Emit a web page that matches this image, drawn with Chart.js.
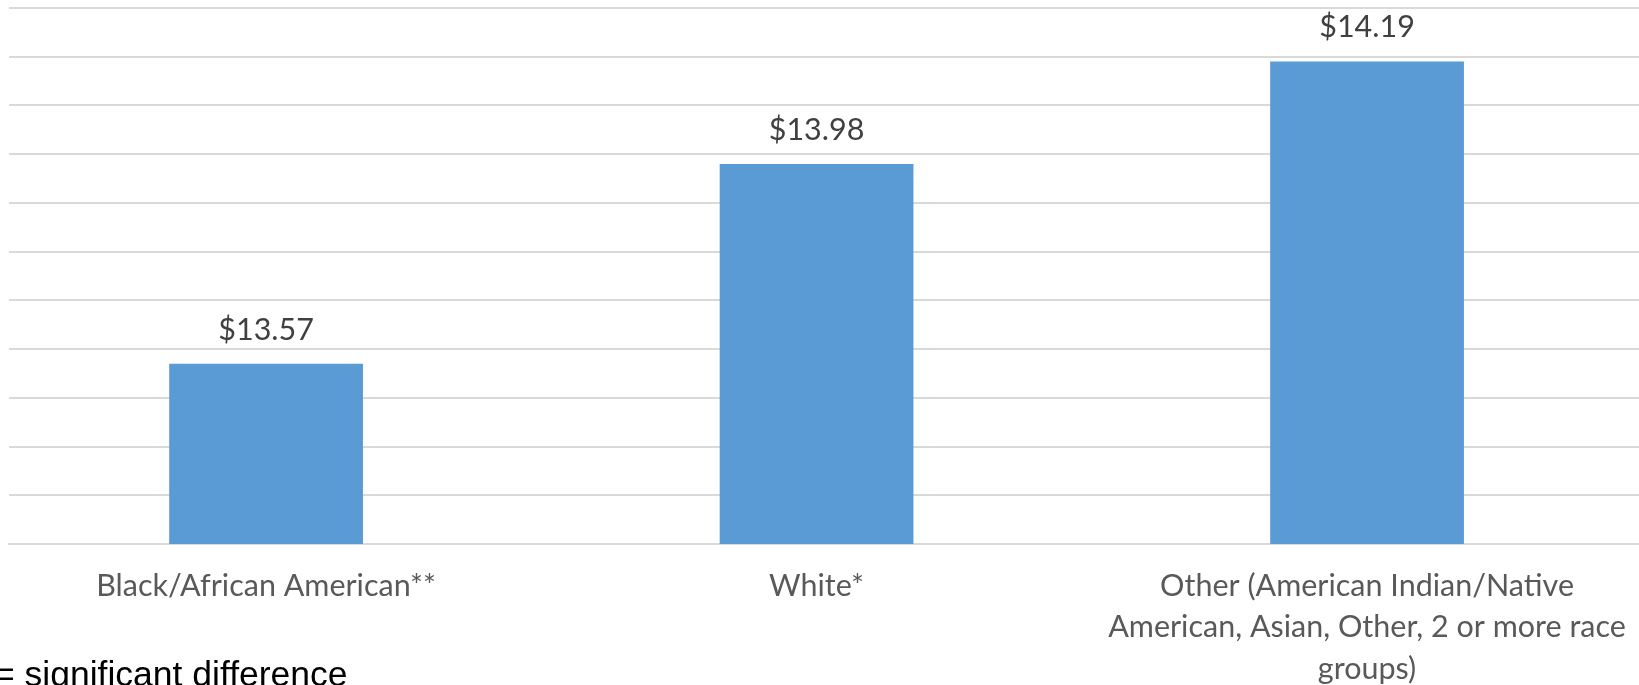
<!DOCTYPE html>
<html>
<head>
<meta charset="utf-8">
<title>Average hourly wage by race</title>
<script src="https://cdn.jsdelivr.net/npm/chart.js@4/dist/chart.umd.min.js"></script>
<style>
    html, body { margin: 0; padding: 0; background: #ffffff; overflow: hidden; }
    #wrap { position: relative; width: 1639px; height: 685px; }
    #note {
        position: absolute;
        left: -6px;
        top: 657px;
        font-family: "Liberation Sans", Arial, sans-serif;
        font-size: 35.5px;
        line-height: 35px;
        color: #000000;
        white-space: nowrap;
    }
</style>
</head>
<body>
<div id="wrap">
    <canvas id="wageChart" width="1639" height="685"></canvas>
    <div id="note">= significant difference</div>
</div>
<script>
// Race groups and their average hourly wage
const groups = [
    'Black/African American**',
    'White*',
    ['Other (American Indian/Native', 'American, Asian, Other, 2 or more race', 'groups)']
];
const wages = [13.57, 13.98, 14.19];

// Value axis range (ticks are hidden, only the grid is drawn)
const wageMin = 13.2;
const wageMax = 14.3;
const wageStep = 0.1;

const barColor = '#5b9bd5';
const gridColor = '#d9d9d9';

// Writes the dollar amount above each bar
const valueLabels = {
    id: 'valueLabels',
    afterDatasetsDraw(chart) {
        const ctx = chart.ctx;
        const meta = chart.getDatasetMeta(0);
        ctx.save();
        ctx.font = '30.5px Lato, "Open Sans", sans-serif';
        ctx.fillStyle = '#404040';
        ctx.textAlign = 'center';
        ctx.textBaseline = 'middle';
        meta.data.forEach((bar, i) => {
            ctx.fillText('$' + wages[i].toFixed(2), bar.x, bar.y - 34);
        });
        ctx.restore();
    }
};

document.addEventListener('DOMContentLoaded', function() {
    new Chart(document.getElementById('wageChart'), {
        type: 'bar',
        data: {
            datasets: [{
                data: wages.map((w, i) => ({ x: i, y: w })),
                backgroundColor: barColor,
                borderWidth: 0,
                categoryPercentage: 1,
                barPercentage: 0.352
            }]
        },
        options: {
            responsive: false,
            animation: false,
            layout: { padding: { top: 8, left: 9, right: 0, bottom: 0 } },
            plugins: {
                legend: { display: false },
                tooltip: { enabled: false }
            },
            scales: {
                x: {
                    type: 'linear',
                    min: -0.467,
                    max: 2.494,
                    offset: false,
                    grid: { display: false, drawTicks: false, offset: false },
                    border: { display: true, color: gridColor, width: 2 },
                    afterBuildTicks: (scale) => {
                        scale.ticks = groups.map((_, i) => ({ value: i }));
                    },
                    afterFit: (scale) => {
                        // keep the plot full width; the long last label may run to the edge
                        scale.height = 141;
                        scale.paddingLeft = 0;
                        scale.paddingRight = 0;
                    },
                    ticks: {
                        autoSkip: false,
                        maxRotation: 0,
                        padding: 21,
                        color: '#595959',
                        font: { family: 'Lato, "Open Sans", sans-serif', size: 30.5, lineHeight: 1.36 },
                        callback: (value) => groups[value]
                    }
                },
                y: {
                    min: wageMin,
                    max: wageMax,
                    border: { display: false },
                    grid: { color: gridColor, lineWidth: 2, drawTicks: false },
                    ticks: { display: false, stepSize: wageStep }
                }
            }
        },
        plugins: [valueLabels]
    });
});
</script>
</body>
</html>
